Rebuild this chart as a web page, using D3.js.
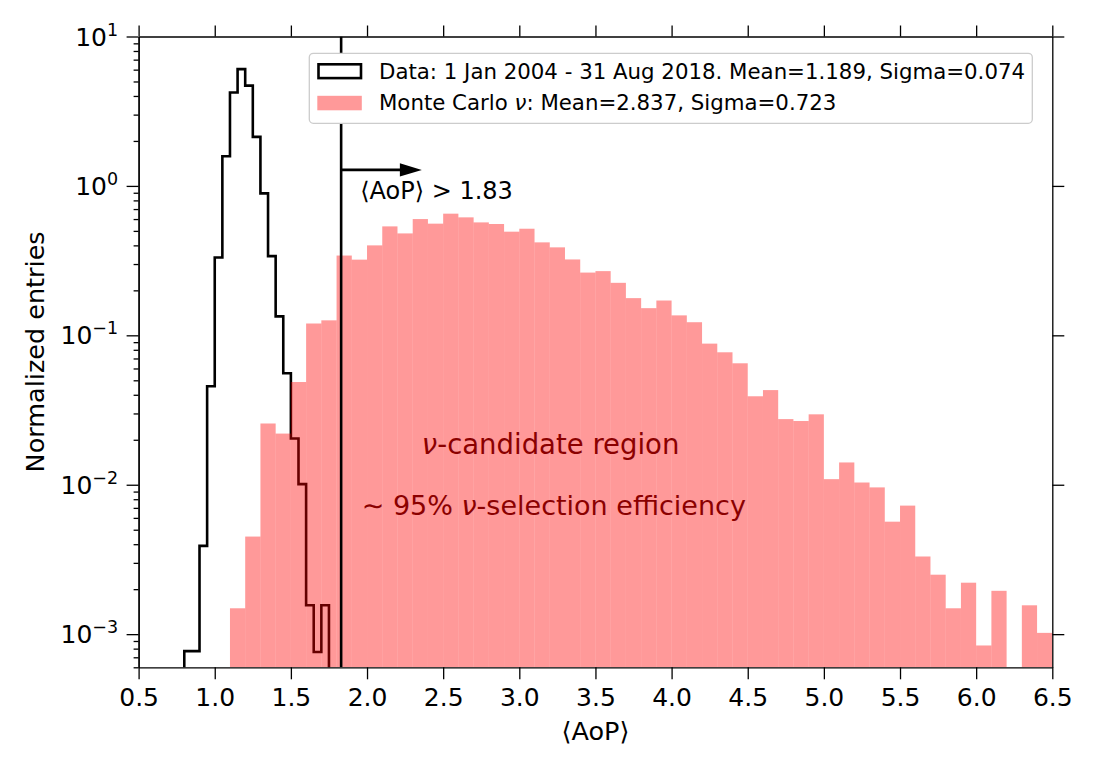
<!DOCTYPE html>
<html>
<head>
<meta charset="utf-8">
<script src="https://cdn.jsdelivr.net/npm/d3@7"></script>
<style>
    body { margin: 0; background: #fff; }
    svg text { font-family: "DejaVu Sans", sans-serif; }
</style>
</head>
<body>
<div id="chart"></div>
<script>
// data histogram (step), bins 0.05 wide starting at 0.80
const dataStart = 0.80;
const dataWidth = 0.05;
const dataValues = [
    7.7e-4, 7.7e-4, 3.9e-3, 0.0456, 0.332, 1.58, 4.22, 6.05, 4.69, 2.13,
    0.892, 0.339, 0.134, 0.0557, 0.0204, 0.0101, 1.56e-3, 7.6e-4, 1.56e-3
];

// Monte Carlo histogram (filled), bins 0.1 wide starting at 1.1
const mcStart = 1.1;
const mcWidth = 0.1;
const mcValues = [
    1.49e-3, 4.5e-3, 0.0257, 0.0220, 0.0487, 0.120, 0.126, 0.342, 0.321, 0.40,
    0.536, 0.481, 0.600, 0.559, 0.652, 0.616, 0.570, 0.556, 0.494, 0.517,
    0.419, 0.388, 0.322, 0.263, 0.269, 0.2246, 0.1774, 0.152, 0.171, 0.136,
    0.1224, 0.088, 0.077, 0.065, 0.0391, 0.043, 0.0275, 0.0267, 0.0296, 0.0109,
    0.0141, 0.01035, 0.0096, 5.66e-3, 7.25e-3, 3.31e-3, 2.5e-3, 1.49e-3, 2.21e-3, 8.4e-4,
    1.95e-3, 0, 1.56e-3, 1.02e-3
];

const xTicks = [0.5, 1.0, 1.5, 2.0, 2.5, 3.0, 3.5, 4.0, 4.5, 5.0, 5.5, 6.0, 6.5];
const yExponents = [-3, -2, -1, 0, 1];
const cut = 1.83;

const legendLabels = [
    ["Data: 1 Jan 2004 - 31 Aug 2018. Mean=1.189, Sigma=0.074"],
    ["Monte Carlo ", "ν", ": Mean=2.837, Sigma=0.723"]
];

const width = 1093;
const height = 771;

const x = d3.scaleLinear().domain([0.5, 6.5]).range([138.6, 1052.3]);
const y = d3.scaleLog().domain([6e-4, 10]).range([667.3, 36.5]);
const bottom = y.range()[0];

const svg = d3.select("#chart").append("svg")
    .attr("width", width)
    .attr("height", height);

svg.append("clipPath")
    .attr("id", "plot-area")
    .append("rect")
    .attr("x", x.range()[0])
    .attr("y", y.range()[1])
    .attr("width", x.range()[1] - x.range()[0])
    .attr("height", y.range()[0] - y.range()[1]);

const plot = svg.append("g").attr("clip-path", "url(#plot-area)");

// データのステップ
const stepPoints = [[x(dataStart), bottom + 5]];
dataValues.forEach((v, i) => {
    const x0 = dataStart + i * dataWidth;
    const yy = v > 0 ? y(v) : bottom + 5;
    stepPoints.push([x(x0), yy]);
    stepPoints.push([x(x0 + dataWidth), yy]);
});
stepPoints.push([x(dataStart + dataValues.length * dataWidth), bottom + 5]);

plot.append("path")
    .attr("d", d3.line()(stepPoints))
    .attr("fill", "none")
    .attr("stroke", "#000")
    .attr("stroke-width", 2.6)
    .attr("stroke-linejoin", "miter");

// Monte Carlo bars
const mcBins = mcValues.map((v, i) => ({ x0: mcStart + i * mcWidth, x1: mcStart + (i + 1) * mcWidth, v }))
    .filter(d => d.v > 0);

plot.selectAll(".mc")
    .data(mcBins)
    .join("rect")
    .attr("class", "mc")
    .attr("x", d => x(d.x0))
    .attr("width", d => x(d.x1) - x(d.x0))
    .attr("y", d => y(d.v))
    .attr("height", d => bottom - y(d.v))
    .attr("fill", "#ff0000")
    .attr("fill-opacity", 0.4);

// cut line and arrow
plot.append("line")
    .attr("x1", x(cut)).attr("x2", x(cut))
    .attr("y1", y.range()[1]).attr("y2", bottom)
    .attr("stroke", "#000")
    .attr("stroke-width", 2.6);

const arrowY = y(1.28);
const arrowEnd = x(2.36);
plot.append("line")
    .attr("x1", x(cut)).attr("x2", arrowEnd - 20)
    .attr("y1", arrowY).attr("y2", arrowY)
    .attr("stroke", "#000")
    .attr("stroke-width", 2.6);
plot.append("path")
    .attr("d", `M${arrowEnd},${arrowY} L${arrowEnd - 22},${arrowY - 6.7} L${arrowEnd - 22},${arrowY + 6.7} Z`)
    .attr("fill", "#000");

svg.append("text")
    .attr("x", x(1.955))
    .attr("y", y(0.815))
    .attr("font-size", 24)
    .text("⟨AoP⟩ > 1.83");

const red = "#8b0000";
const t1 = svg.append("text")
    .attr("x", x(2.36))
    .attr("y", y(0.0161))
    .attr("font-size", 27.5)
    .attr("fill", red);
t1.append("tspan").attr("font-style", "italic").text("ν");
t1.append("tspan").text("-candidate region");

const t2 = svg.append("text")
    .attr("x", x(1.965))
    .attr("y", y(0.00627))
    .attr("font-size", 27)
    .attr("fill", red);
t2.append("tspan").text("∼ 95% ");
t2.append("tspan").attr("font-style", "italic").text("ν");
t2.append("tspan").text("-selection efficiency");

// axes
const styleAxis = g => {
    g.selectAll(".domain").attr("stroke", "#000").attr("stroke-width", 1.3);
    g.selectAll(".tick line").attr("stroke", "#000").attr("stroke-width", 1.3);
};

svg.append("g")
    .attr("transform", `translate(0,${bottom})`)
    .call(d3.axisBottom(x).tickValues(xTicks).tickFormat(d3.format(".1f"))
        .tickSize(12).tickSizeOuter(0).tickPadding(9))
    .call(styleAxis)
    .call(g => g.selectAll("text").attr("font-size", 25).attr("fill", "#000")
        .attr("font-family", "DejaVu Sans"));

svg.append("g")
    .attr("transform", `translate(0,${y.range()[1]})`)
    .call(d3.axisTop(x).tickValues(xTicks).tickFormat("").tickSize(11).tickSizeOuter(0))
    .call(styleAxis);

const decades = yExponents.map(e => Math.pow(10, e));
const minors = [];
for (let e = -4; e <= 0; e++) {
    for (let m = 2; m <= 9; m++) {
        const v = m * Math.pow(10, e);
        if (v >= y.domain()[0] && v <= y.domain()[1]) minors.push(v);
    }
}

svg.append("g")
    .attr("transform", `translate(${x.range()[1]},0)`)
    .call(d3.axisRight(y).tickValues(decades).tickFormat("").tickSize(12).tickSizeOuter(0))
    .call(styleAxis);

svg.append("g")
    .attr("transform", `translate(${x.range()[0]},0)`)
    .call(d3.axisLeft(y).tickValues(minors).tickFormat("").tickSize(5).tickSizeOuter(0))
    .call(styleAxis);

const leftAxis = svg.append("g")
    .attr("transform", `translate(${x.range()[0]},0)`)
    .call(d3.axisLeft(y).tickValues(decades).tickFormat("").tickSize(12).tickSizeOuter(0))
    .call(styleAxis);

// 10^n ラベル
yExponents.forEach(e => {
    const t = leftAxis.append("text")
        .attr("x", -20.5)
        .attr("y", y(Math.pow(10, e)) + 9)
        .attr("text-anchor", "end")
        .attr("font-size", 25)
        .attr("fill", "#000");
    t.append("tspan").text("10");
    t.append("tspan").attr("dy", -10).attr("font-size", 17.5)
        .text(e < 0 ? "−" + (-e) : String(e));
});

svg.append("text")
    .attr("transform", `translate(43.5,${(y.range()[0] + y.range()[1]) / 2}) rotate(-90)`)
    .attr("text-anchor", "middle")
    .attr("font-size", 25.5)
    .text("Normalized entries");

svg.append("text")
    .attr("x", (x.range()[0] + x.range()[1]) / 2)
    .attr("y", 740)
    .attr("text-anchor", "middle")
    .attr("font-size", 25.5)
    .text("⟨AoP⟩");

// legend
const legend = svg.append("g");
legend.append("rect")
    .attr("x", 309.3).attr("y", 53.3)
    .attr("width", 723).attr("height", 70)
    .attr("rx", 4)
    .attr("fill", "#fff")
    .attr("stroke", "#cccccc")
    .attr("stroke-width", 1.3);
legend.append("rect")
    .attr("x", 318.5).attr("y", 64.3)
    .attr("width", 42.5).attr("height", 13.8)
    .attr("fill", "none")
    .attr("stroke", "#000")
    .attr("stroke-width", 2.6);
legend.append("rect")
    .attr("x", 317.3).attr("y", 95.8)
    .attr("width", 44.5).attr("height", 14.5)
    .attr("fill", "#ff0000")
    .attr("fill-opacity", 0.4);

legendLabels.forEach((parts, i) => {
    const t = legend.append("text")
        .attr("x", 379)
        .attr("y", i === 0 ? 79 : 110)
        .attr("font-size", 21.3)
        .attr("fill", "#000");
    parts.forEach(p => {
        const s = t.append("tspan").text(p);
        if (p === "ν") s.attr("font-style", "italic");
    });
});
</script>
</body>
</html>
